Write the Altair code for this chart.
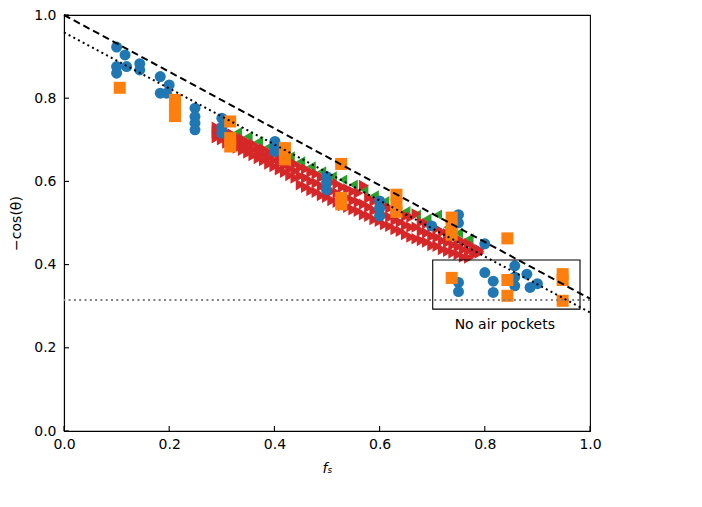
import altair as alt
import pandas as pd

# ---- data ----
blue_x = [0.10, 0.116, 0.10, 0.10, 0.119, 0.144, 0.144, 0.183, 0.183, 0.20, 0.195,
          0.249, 0.249, 0.249, 0.249, 0.30, 0.30, 0.30, 0.401, 0.401, 0.401,
          0.499, 0.499, 0.499, 0.60, 0.60, 0.60, 0.699, 0.75, 0.75,
          0.75, 0.75, 0.80, 0.80, 0.816, 0.816, 0.857, 0.857, 0.857, 0.88, 0.886, 0.90]
blue_y = [0.923, 0.904, 0.876, 0.86, 0.876, 0.883, 0.868, 0.852, 0.812, 0.832, 0.812,
          0.776, 0.756, 0.74, 0.724, 0.752, 0.73, 0.716, 0.696, 0.684, 0.672,
          0.612, 0.597, 0.58, 0.553, 0.535, 0.517, 0.493, 0.52, 0.50,
          0.357, 0.335, 0.45, 0.381, 0.36, 0.333, 0.397, 0.37, 0.349, 0.377, 0.345, 0.354]

orange_x = [0.106, 0.211, 0.211, 0.211, 0.316, 0.316, 0.316, 0.42, 0.42,
            0.527, 0.527, 0.527, 0.632, 0.632, 0.632, 0.737, 0.737, 0.737,
            0.737, 0.843, 0.843, 0.843, 0.948, 0.948, 0.948]
orange_y = [0.825, 0.796, 0.775, 0.757, 0.744, 0.704, 0.684, 0.68, 0.653,
            0.642, 0.56, 0.545, 0.568, 0.545, 0.527, 0.513, 0.492, 0.472,
            0.368, 0.463, 0.363, 0.325, 0.377, 0.363, 0.313]

green_x = [0.33, 0.35, 0.37, 0.39, 0.41, 0.43, 0.45, 0.47, 0.49, 0.51, 0.53, 0.55,
           0.57, 0.59, 0.61, 0.63, 0.65, 0.67, 0.69, 0.71, 0.73, 0.75, 0.77]
green_y = [0.718, 0.708, 0.696, 0.684, 0.672, 0.660, 0.648, 0.636, 0.624, 0.612, 0.604, 0.592,
           0.580, 0.566, 0.552, 0.540, 0.528, 0.520, 0.510, 0.520, 0.490, 0.476, 0.462]

red_x = [0.29, 0.30, 0.31, 0.32, 0.33, 0.34, 0.35, 0.36, 0.37, 0.38, 0.39, 0.40, 0.41,
         0.42, 0.43, 0.44, 0.45, 0.46, 0.47, 0.48, 0.49, 0.50, 0.51, 0.52, 0.53, 0.54,
         0.55, 0.56, 0.57, 0.58, 0.59, 0.60, 0.61, 0.62, 0.63, 0.64, 0.65, 0.66, 0.67,
         0.68, 0.69, 0.70, 0.71, 0.72, 0.73, 0.74, 0.75, 0.76, 0.77, 0.78, 0.79]
red_top = [0.730, 0.726, 0.718, 0.714, 0.706, 0.702, 0.694, 0.690, 0.682, 0.678, 0.670, 0.666, 0.658,
           0.654, 0.646, 0.642, 0.634, 0.630, 0.622, 0.618, 0.610, 0.606, 0.598, 0.594, 0.586, 0.582,
           0.576, 0.572, 0.590, 0.560, 0.552, 0.548, 0.540, 0.536, 0.528, 0.524, 0.516, 0.514, 0.522,
           0.502, 0.498, 0.490, 0.486, 0.478, 0.474, 0.466, 0.462, 0.454, 0.450, 0.442, 0.436]
red_mid = [0.718, 0.713, 0.705, 0.701, 0.693, 0.688, 0.681, 0.676, 0.668, 0.664, 0.656, 0.651, 0.643,
           0.638, 0.630, 0.625, 0.613, 0.608, 0.600, 0.596, 0.588, 0.584, 0.576, 0.572, 0.564, 0.560,
           0.554, 0.550, 0.545, 0.538, 0.530, 0.526, 0.518, 0.514, 0.506, 0.502, 0.494, 0.490, 0.490,
           0.480, 0.476, 0.468, 0.465, 0.457, 0.453, 0.447, 0.443, 0.436, 0.433, 0.433, 0.432]
red_low = [0.705, 0.700, 0.692, 0.688, 0.680, 0.675, 0.668, 0.662, 0.655, 0.650, 0.642, 0.636, 0.628,
           0.622, 0.614, 0.608, 0.592, 0.586, 0.578, 0.574, 0.566, 0.562, 0.554, 0.550, 0.542, 0.538,
           0.532, 0.528, 0.520, 0.516, 0.508, 0.504, 0.496, 0.492, 0.484, 0.480, 0.472, 0.466, 0.462,
           0.458, 0.454, 0.446, 0.444, 0.436, 0.432, 0.428, 0.424, 0.418, 0.416, 0.424, 0.428]

line_x = [0.0, 1.0]
dashed_y = [1.0, 0.318]
dotted_y = [0.958, 0.285]
hline_y = [0.315]

box_x = [0.701]
box_x2 = [0.981]
box_y = [0.293]
box_y2 = [0.411]
label_x = [0.838]
label_y = [0.256]
label_text = ["No air pockets"]

ticks = [0.0, 0.2, 0.4, 0.6, 0.8, 1.0]

W, H = 526, 416
FONT = "DejaVu Sans"

xs = alt.Scale(domain=[0, 1], nice=False)
ys = alt.Scale(domain=[0, 1], nice=False)

xaxis = alt.Axis(values=ticks, format=".1f", ticks=False, tickSize=0, grid=False,
                 labelFontSize=14, labelPadding=6, labelColor="black", labelFont=FONT,
                 labelFlush=False, domainColor="black", domainWidth=1.1,
                 title="fₛ", titleFontSize=14, titleFontWeight="normal", titleFontStyle="italic",
                 titleFont=FONT, titleColor="black", titlePadding=10)
yaxis = alt.Axis(values=ticks, format=".1f", ticks=False, tickSize=0, grid=False,
                 labelFontSize=14, labelPadding=8, labelColor="black", labelFont=FONT,
                 labelFlush=False, domainColor="black", domainWidth=1.1,
                 title="−cos(θ)", titleFontSize=14, titleFontWeight="normal",
                 titleFont=FONT, titleColor="black", titlePadding=10)

base_x = alt.X("x:Q", scale=xs, axis=xaxis)
base_y = alt.Y("y:Q", scale=ys, axis=yaxis)

def pts(xv, yv):
    return pd.DataFrame({"x": xv, "y": yv})

green = alt.Chart(pts(green_x, green_y)).mark_point(
    shape="triangle-left", filled=True, color="#2ca02c", size=110, opacity=1, strokeWidth=0
).encode(x=base_x, y=base_y)

red = alt.Chart(pts(red_x + red_x + red_x, red_top + red_mid + red_low)).mark_point(
    shape="triangle-right", filled=True, color="#d62728", size=130, opacity=1, strokeWidth=0
).encode(x="x:Q", y="y:Q")

blue = alt.Chart(pts(blue_x, blue_y)).mark_point(
    shape="circle", filled=True, color="#1f77b4", size=120, opacity=1, strokeWidth=0
).encode(x="x:Q", y="y:Q")

orange = alt.Chart(pts(orange_x, orange_y)).mark_point(
    shape="square", filled=True, color="#ff7f0e", size=145, opacity=1, strokeWidth=0
).encode(x="x:Q", y="y:Q")

dashed = alt.Chart(pts(line_x, dashed_y)).mark_line(
    color="black", strokeWidth=2, strokeDash=[7, 4]
).encode(x="x:Q", y="y:Q")

dotted = alt.Chart(pts(line_x, dotted_y)).mark_line(
    color="black", strokeWidth=2, strokeDash=[2, 3.3]
).encode(x="x:Q", y="y:Q")

hline = alt.Chart(pd.DataFrame({"y": hline_y})).mark_rule(
    color="gray", strokeWidth=2, strokeDash=[2, 3.3]
).encode(y="y:Q")

box = alt.Chart(pd.DataFrame({"x": box_x, "x2": box_x2, "y": box_y, "y2": box_y2})).mark_rect(
    fillOpacity=0, stroke="black", strokeWidth=1.1
).encode(x="x:Q", x2="x2:Q", y="y:Q", y2="y2:Q")

label = alt.Chart(pd.DataFrame({"x": label_x, "y": label_y, "t": label_text})).mark_text(
    fontSize=14, font=FONT, color="black", baseline="middle", align="center"
).encode(x="x:Q", y="y:Q", text="t:N")

tdf = pd.DataFrame({"t": ticks})
xticks = alt.Chart(tdf).mark_rule(color="black", strokeWidth=1.1).encode(
    x="t:Q", y=alt.value(H), y2=alt.value(H - 5))
yticks = alt.Chart(tdf).mark_rule(color="black", strokeWidth=1.1).encode(
    y="t:Q", x=alt.value(0), x2=alt.value(5))

chart = alt.layer(
    green, red, blue, orange, dashed, dotted, hline, box, label, xticks, yticks
).properties(
    width=W, height=H,
    background="white",
    autosize=alt.AutoSizeParams(type="none"),
    padding={"left": 56, "top": 7, "right": 20, "bottom": 70},
).configure_view(
    stroke="black", strokeWidth=1.1
)

chart.save("out.html", embed_options={"renderer": "svg", "actions": False})
